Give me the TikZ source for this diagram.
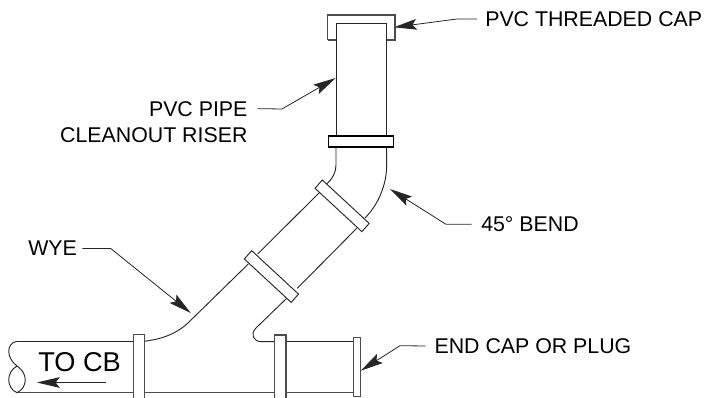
\documentclass[tikz,border=0pt]{standalone}
\usepackage{fontspec}
\setmainfont{Liberation Sans}
\usetikzlibrary{arrows.meta}
\tikzset{pipe/.style={draw=black!85,line width=0.7pt},
  heavy/.style={draw=black!70,line width=1pt},
  collar/.style={draw=black,fill=white,line width=0.9pt},
  leader/.style={draw=black!85,line width=0.6pt,-{Stealth[length=17pt,width=8pt,inset=3pt]}},
  callout/.style={inner sep=0pt,font=\fontsize{16pt}{19.5pt}\selectfont,align=right}}
\begin{document}
\begin{tikzpicture}[x=0.75pt,y=-0.75pt]
\useasboundingbox (0,0) rectangle (706,398);
% riser and threaded cap
\draw[heavy,fill=white](327.5,40)--(327.5,15)--(395,15)--(395,40)--(386.7,40) (336,40)--(327.5,40);
\draw[pipe,fill=white](336,147)--(336,23)--(386.7,23)--(386.7,147);
% bend
\draw[pipe](336,147)--(336,165) .. controls (336,172) and (333,178) .. (326.7,184);
\draw[pipe](386.7,147)--(386.7,165) .. controls (386.7,185) and (378,205) .. (365,218);
% 45 degree run
\draw[pipe](257.7,254)--(320,192);
\draw[pipe](297.3,288.3)--(356.7,228.3);
% wye branch
\draw[pipe](144.3,341.3) .. controls (162,339) and (177,334) .. (190,321)--(248.3,264);
\draw[pipe](286.7,298.3)--(256,328) .. controls (250,334) and (253,341.7) .. (261.7,341.7)--(274.3,341.7);
% main line
\draw[pipe](17,341.3)--(133.3,341.3) (286,341.7)--(353.3,341.7);
\draw[heavy](17,392.7)--(133.3,392.7) (144.3,392.7)--(274.3,392.7) (286,392.7)--(353.3,392.7);
% pipe break
\draw[pipe](17,341.3) .. controls (6,343) and (6,358) .. (17,366) .. controls (29,374) and (27,388) .. (17,392.7) .. controls (6,388) and (6,372) .. (17,366);
% collars
\draw[collar](328.7,136) rectangle (393.3,147);
\foreach \a/\b/\c/\d in {322.3/180/315/188.3,251.7/250.7/244.3/259}{\pgfmathsetmacro{\dx}{46.9};\pgfmathsetmacro{\dy}{43.4};
\draw[pipe,fill=white](\a,\b)--(\c,\d)--++(\dx,\dy)--++(7.3,-8.3)--cycle;}
\foreach \xx/\yy/\w in {133.3/334.3/11,274.3/335/11.7}{\fill[white](\xx,\yy) rectangle ++(\w,63.4);\draw[heavy](\xx,397.7)--(\xx,\yy)--++(\w,0)--++(0,63.4);}
\draw[heavy,fill=white](353.3,337.7) rectangle (360.3,396.7);
% labels
\node[callout,anchor=west](capt) at (485,19){PVC THREADED CAP};
\node[callout,anchor=east](riser) at (247.7,122){PVC PIPE\\CLEANOUT RISER};
\node[callout,anchor=west](bend) at (481,224.3){45° BEND};
\node[callout,anchor=west](wye) at (28,248.5){WYE};
\node[callout,anchor=west](plug) at (434.3,346){END CAP OR PLUG};
\node[callout,anchor=west,font=\fontsize{20.4pt}{24pt}\selectfont](tocb) at (38,362){TO CB};
% leaders
\coordinate (captip) at (394,27.3);\coordinate (risertip) at (335.7,78);\coordinate (bendtip) at (390,189);\coordinate (wyetip) at (190.7,313);\coordinate (plugtip) at (360.7,370.7);
\coordinate (tocbtip) at (37,382.5);\coordinate (tocbtail) at (106,382.5);
\draw[leader]([xshift=-6pt]capt.west)--(457,19)--(captip);
\draw[leader]([shift={(7.4pt,-5.6pt)}]riser.north east)--(282,109)--(risertip);
\draw[leader]([xshift=-7pt]bend.west)--(446,224.3)--(bendtip);
\draw[leader]([xshift=4pt]wye.east)--(110.7,248.5)--(wyetip);
\draw[leader]([xshift=-6.5pt]plug.west)--(400,345.7)--(plugtip);
\draw[leader](tocbtail)--(tocbtip);
\end{tikzpicture}
\end{document}
